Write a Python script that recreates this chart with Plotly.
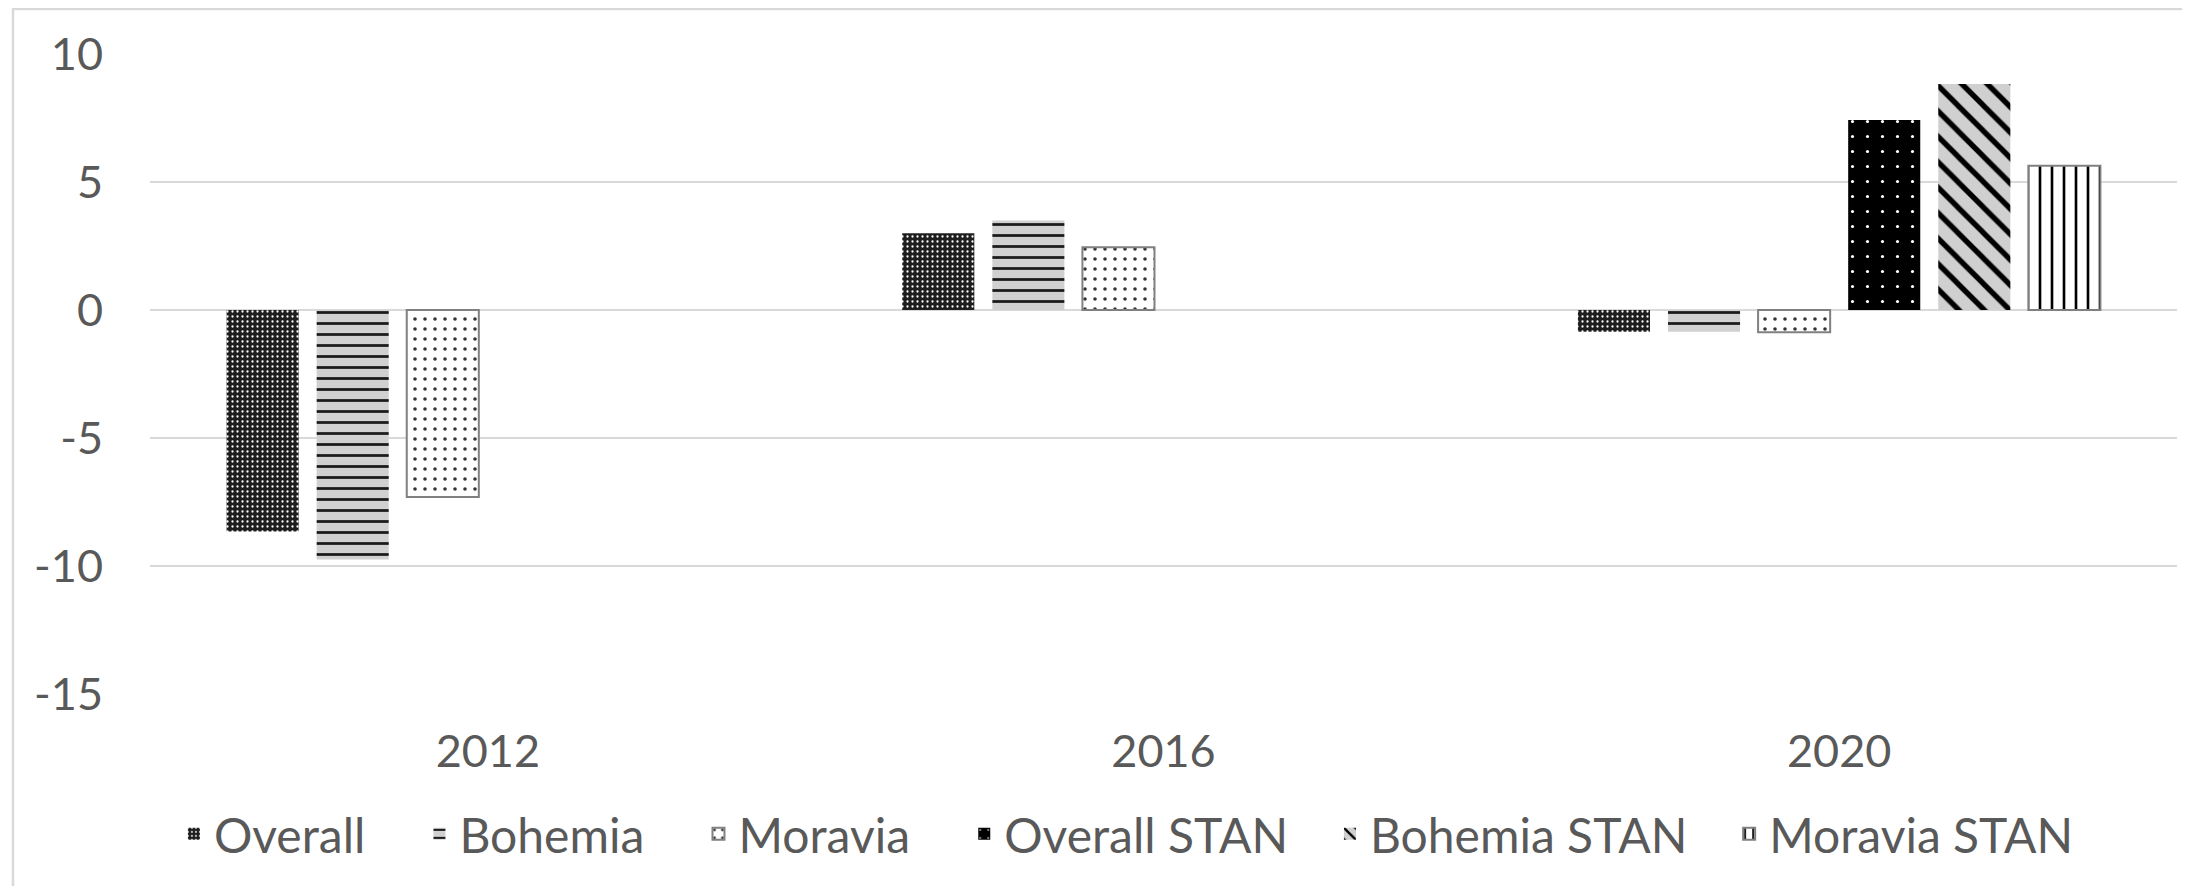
import plotly.graph_objects as go

categories = ["2012", "2016", "2020"]
series_names = ["Overall", "Bohemia", "Moravia", "Overall STAN", "Bohemia STAN", "Moravia STAN"]
overall = [-8.65, 3.0, -0.85]
bohemia = [-9.75, 3.5, -0.85]
moravia = [-7.3, 2.45, -0.87]
overall_stan = [None, None, 7.42]
bohemia_stan = [None, None, 8.83]
moravia_stan = [None, None, 5.63]
y_ticks = [10, 5, 0, -5, -10, -15]

values = [overall, bohemia, moravia, overall_stan, bohemia_stan, moravia_stan]
legend_pad = [4, 4, 4, 3, 3, 0]

styles = [
    dict(shape=".", bgcolor="#1e1e1e", fgcolor="#ffffff", size=5, solidity=0.16, line="rgba(0,0,0,0)", lw=0),
    dict(shape="-", bgcolor="#d0d0d0", fgcolor="#1a1a1a", size=11, solidity=0.25, line="rgba(0,0,0,0)", lw=0),
    dict(shape=".", bgcolor="#ffffff", fgcolor="#333333", size=10, solidity=0.1, line="#808080", lw=2),
    dict(shape=".", bgcolor="#000000", fgcolor="#ffffff", size=15, solidity=0.035, line="rgba(0,0,0,0)", lw=0),
    dict(shape="\\", bgcolor="#d0d0d0", fgcolor="#000000", size=18, solidity=0.3, line="rgba(0,0,0,0)", lw=0),
    dict(shape="|", bgcolor="#ffffff", fgcolor="#000000", size=12, solidity=0.22, line="#808080", lw=2),
]

NB = "\u00a0"
fig = go.Figure()
for name, vals, st, pad in zip(series_names, values, styles, legend_pad):
    fig.add_trace(go.Bar(
        x=categories, y=vals, name=name + NB * pad,
        marker=dict(
            color=st["bgcolor"],
            line=dict(color=st["line"], width=st["lw"]),
            pattern=dict(shape=st["shape"], bgcolor=st["bgcolor"], fgcolor=st["fgcolor"],
                         size=st["size"], solidity=st["solidity"], fillmode="replace"),
        ),
        hoverinfo="skip",
    ))

font_family = "Lato, 'Open Sans', sans-serif"
text_color = "#595959"

fig.update_layout(
    width=2182, height=878,
    margin=dict(l=142, r=13, t=46, b=192),
    paper_bgcolor="white", plot_bgcolor="white",
    barmode="group", bargap=0.2, bargroupgap=0.2,
    font=dict(family=font_family, size=45, color=text_color),
    showlegend=True,
    legend=dict(orientation="h", x=0.0118, xanchor="left", y=-0.219, yanchor="middle",
                font=dict(family=font_family, size=48, color=text_color),
                bgcolor="rgba(0,0,0,0)", itemclick=False, itemdoubleclick=False),
    xaxis=dict(type="category", showgrid=False, showline=False, zeroline=False,
               ticks="", ticklabelstandoff=27,
               tickfont=dict(family=font_family, size=45, color=text_color)),
    yaxis=dict(range=[-15, 10], tickvals=y_ticks, ticktext=[str(v) for v in y_ticks],
               showgrid=True, gridcolor="#d9d9d9", gridwidth=2,
               zeroline=True, zerolinecolor="#d9d9d9", zerolinewidth=2,
               showline=False, ticks="", ticklabelstandoff=46,
               tickfont=dict(family=font_family, size=45, color=text_color)),
    shapes=[dict(type="rect", xref="paper", yref="paper",
                 x0=-0.0676, x1=1.02, y0=-0.4, y1=1.0703,
                 line=dict(color="#d9d9d9", width=2.5), fillcolor="rgba(0,0,0,0)", layer="below")],
)

fig.write_html("out.html")
